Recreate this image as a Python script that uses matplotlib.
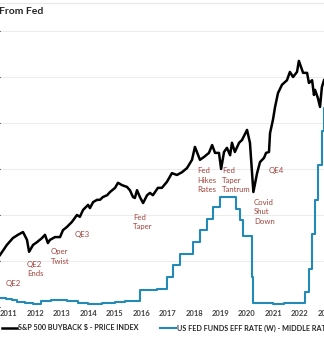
import numpy as np
import matplotlib
matplotlib.use("Agg")
import matplotlib.pyplot as plt

plt.rcParams['font.family'] = ['Lato', 'DejaVu Sans']

# S&P 500 buyback index (weekly-ish points, arbitrary units)
spx_dates = [2010.66, 2010.92, 2011.15, 2011.34, 2011.53, 2011.68, 2011.76, 2011.91,
             2012.06, 2012.25, 2012.36, 2012.47, 2012.55, 2012.74, 2012.93, 2013.04,
             2013.19, 2013.38, 2013.57, 2013.68, 2013.80, 2013.99, 2014.06, 2014.18,
             2014.33, 2014.44, 2014.55, 2014.71, 2014.82, 2015.01, 2015.12, 2015.27,
             2015.46, 2015.57, 2015.69, 2015.76, 2015.84, 2015.95, 2016.07, 2016.22,
             2016.33, 2016.44, 2016.63, 2016.78, 2016.97, 2017.16, 2017.35, 2017.54,
             2017.73, 2017.92, 2018.03, 2018.22, 2018.37, 2018.56, 2018.68, 2018.79,
             2018.94, 2019.02, 2019.13, 2019.24, 2019.36, 2019.43, 2019.54, 2019.70,
             2019.81, 2020.00, 2020.11, 2020.24, 2020.38, 2020.49, 2020.64, 2020.72,
             2020.83, 2020.87, 2020.98, 2021.06, 2021.17, 2021.32, 2021.51, 2021.62,
             2021.74, 2021.89, 2021.96, 2022.12, 2022.27, 2022.34, 2022.46, 2022.53,
             2022.57, 2022.68, 2022.76, 2022.83, 2022.91]
spx_vals = [1130, 1350, 1500, 1570, 1630, 1460, 1200, 1350,
            1410, 1500, 1570, 1390, 1460, 1520, 1520, 1670,
            1740, 1850, 2000, 1960, 2110, 2220, 2150, 2280,
            2330, 2330, 2390, 2430, 2500, 2590, 2700, 2650,
            2610, 2540, 2390, 2370, 2540, 2390, 2260, 2430,
            2480, 2430, 2590, 2590, 2720, 2910, 2870, 2930,
            3020, 3200, 3480, 3200, 3260, 3350, 3520, 3350,
            3350, 3000, 3370, 3460, 3300, 3570, 3370, 3570,
            3630, 3850, 3570, 2500, 2910, 3150, 3240, 3350,
            3370, 3780, 4070, 4350, 4650, 4830, 4930, 5110,
            5000, 5110, 5350, 5090, 5090, 4870, 4930, 4610,
            4720, 4540, 4350, 4780, 4930]

# US fed funds effective rate (%), value holds from each date on
ff_dates = [2010.66, 2010.90, 2011.10, 2011.30, 2011.60, 2011.90, 2012.20, 2012.60,
            2012.90, 2013.20, 2013.60, 2014.00, 2014.50, 2015.00, 2015.40, 2015.70,
            2015.96, 2016.60, 2016.96, 2017.21, 2017.46, 2017.96, 2018.22, 2018.47,
            2018.73, 2018.97, 2019.60, 2019.73, 2019.84, 2020.17, 2020.21, 2020.60,
            2021.00, 2021.40, 2022.18, 2022.34, 2022.45, 2022.56, 2022.70, 2022.82,
            2022.90, 2023.10]
ff_rate = [0.19, 0.18, 0.15, 0.10, 0.08, 0.07, 0.12, 0.15,
           0.16, 0.14, 0.09, 0.07, 0.09, 0.11, 0.13, 0.14,
           0.37, 0.40, 0.65, 0.91, 1.16, 1.42, 1.68, 1.91,
           2.18, 2.40, 2.12, 1.90, 1.55, 0.65, 0.08, 0.09,
           0.07, 0.09, 0.33, 0.83, 1.58, 2.33, 3.08, 3.83,
           4.33, 4.33]

years = list(range(2011, 2023))

notes = ["QE2", "QE2\nEnds", "Oper\nTwist", "QE3", "Fed\nTaper", "Fed\nHikes\nRates",
         "Fed\nTaper\nTantrum", "Covid\nShut\nDown", "QE4"]
note_x = [2010.89, 2011.68, 2012.59, 2013.50, 2015.69, 2018.11, 2019.05, 2020.26, 2020.83]
note_y = [0.59, 1.00, 1.28, 1.65, 2.02, 3.04, 3.04, 2.35, 3.04]

fig = plt.figure(figsize=(3.24, 3.40), dpi=100)
ax = fig.add_axes([0, 33 / 340, 1, 304 / 340])
ax.set_xlim(2010.66, 2022.91)
ax.set_ylim(0, 304 / 46)
ax.set_yticks(range(0, 7))
ax.yaxis.grid(True, color='#ececec', lw=0.7)
ax.set_axisbelow(True)
for s in ['left', 'right', 'bottom']:
    ax.spines[s].set_visible(False)
ax.spines['top'].set_color('#e8e8e8')
ax.spines['top'].set_linewidth(0.8)
ax.tick_params(axis='y', left=False, labelleft=False)
ax.set_xticks(years)
ax.set_xticklabels([str(y) for y in years], fontsize=5.5, fontweight='bold', color='#404040')
ax.tick_params(axis='x', length=0, pad=2.5)
# 2023 sits past the right edge and is only partly shown
ax.text(2023, -0.14, "2023", fontsize=5.5, fontweight='bold', color='#404040',
        ha='center', va='center', clip_on=False)

ff_line, = ax.plot(ff_dates, ff_rate, color='#2389b6', lw=1.5, drawstyle='steps-post',
                   label='US FED FUNDS EFF RATE (W) - MIDDLE RATE')

ax2 = ax.twinx()
ax2.set_ylim(0, 304000 / 46)
ax2.axis('off')
spx_line, = ax2.plot(spx_dates, spx_vals, color='black', lw=1.8,
                     label='S&P 500 BUYBACK $ - PRICE INDEX')

for t, x, y in zip(notes, note_x, note_y):
    ax.text(x, y, t, fontsize=5.6, color='#a0443c', ha='left', va='top', linespacing=1.4)

fig.text(-0.002, 1 - 11 / 340, "From Fed", fontsize=7.5, fontweight='bold',
         color='#262626', ha='left', va='center')

fig.legend(handles=[spx_line, ff_line], loc='center left', bbox_to_anchor=(0.005, 12 / 340),
           ncol=2, frameon=False, borderpad=0, borderaxespad=0, handlelength=2.1,
           handletextpad=0.2, columnspacing=3.0,
           prop={'size': 5.2, 'weight': 'bold'}, labelcolor='#262626')

fig.savefig('out.png', dpi=100)
